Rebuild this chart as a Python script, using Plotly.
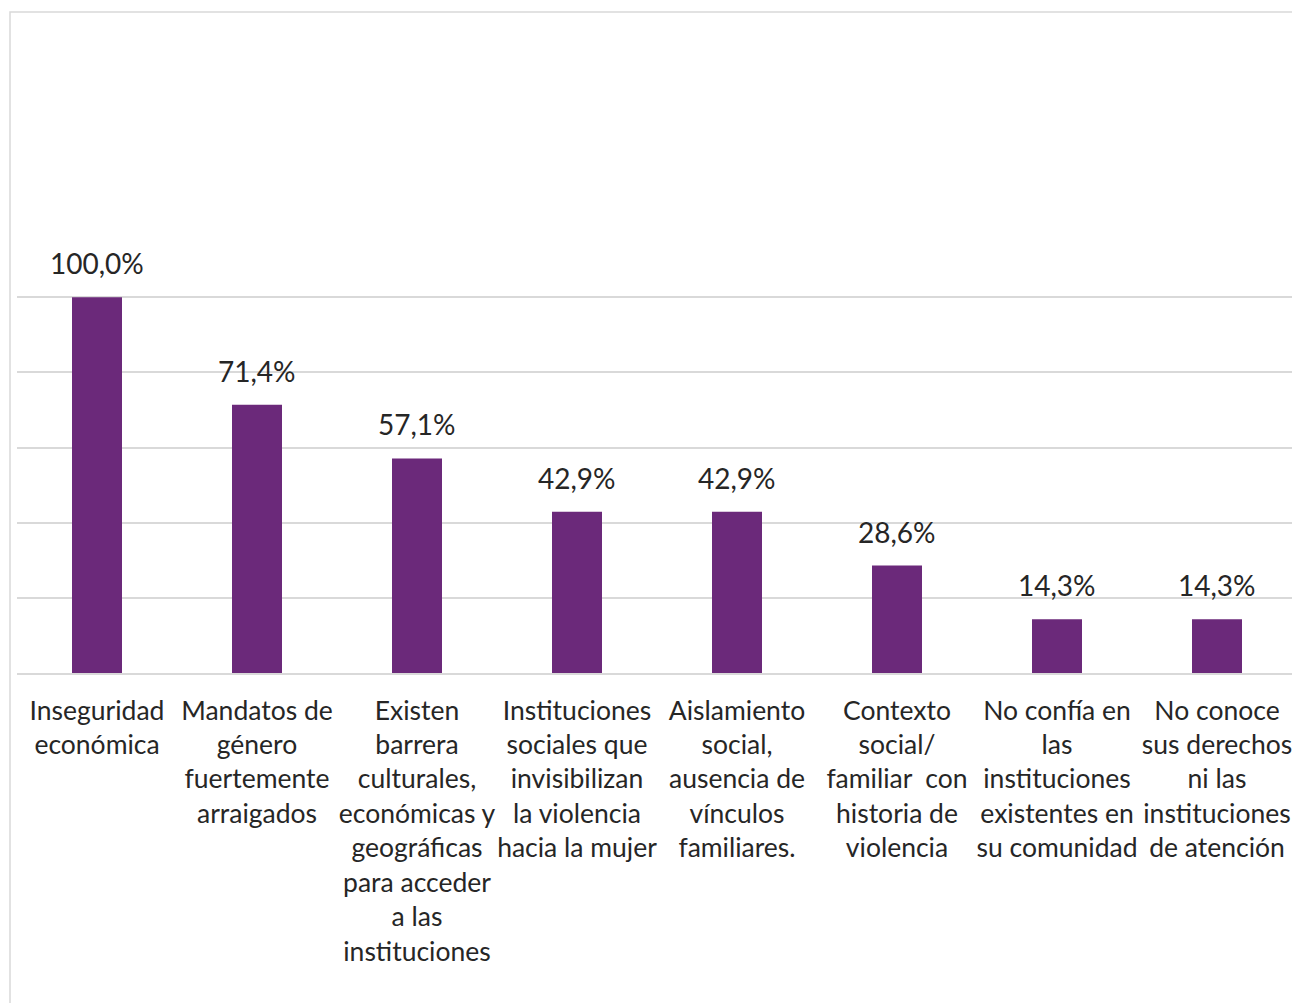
import plotly.graph_objects as go

categories = [
    "Inseguridad<br>económica",
    "Mandatos de<br>género<br>fuertemente<br>arraigados",
    "Existen<br>barrera<br>culturales,<br>económicas y<br>geográficas<br>para acceder<br>a las<br>instituciones",
    "Instituciones<br>sociales que<br>invisibilizan<br>la violencia<br>hacia la mujer",
    "Aislamiento<br>social,<br>ausencia de<br>vínculos<br>familiares.",
    "Contexto<br>social/<br>familiar&nbsp; con<br>historia de<br>violencia",
    "No confía en<br>las<br>instituciones<br>existentes en<br>su comunidad",
    "No conoce<br>sus derechos<br>ni las<br>instituciones<br>de atención",
]
values = [100.0, 71.4, 57.1, 42.9, 42.9, 28.6, 14.3, 14.3]
value_labels = ["100,0%", "71,4%", "57,1%", "42,9%", "42,9%", "28,6%", "14,3%", "14,3%"]

# page body has an 8px default margin; figure sized to fit the 1300x1003 window
OFF = 8
W, H = 1300 - OFF, 1003 - OFF
ML, MR, MT, MB = 17 - OFF, 3, 222 - OFF, 1003 - 673
PW, PH = W - ML - MR, H - MT - MB

PURPLE = "#6B297A"
GRID = "#D9D9D9"
TXT = "#262626"
FONT = "Lato, Calibri, Carlito, sans-serif"

fig = go.Figure()
fig.add_trace(go.Bar(
    x=categories, y=values, marker=dict(color=PURPLE, line=dict(width=0)),
    hoverinfo="skip",
))

for c, v, t in zip(categories, values, value_labels):
    fig.add_annotation(
        x=c, y=v, text=t, showarrow=False, xanchor="center", yanchor="bottom",
        yshift=15, font=dict(family=FONT, size=28, color=TXT),
    )

# outer chart frame (left and top edges visible)
fig.add_shape(
    type="rect", xref="paper", yref="paper",
    x0=-(ML - 2) / PW, x1=1 + 40 / PW,
    y0=-(MB + 40) / PH, y1=(H - MB - 4) / PH,
    line=dict(color=GRID, width=1.5), fillcolor="rgba(0,0,0,0)", layer="below",
)

fig.update_layout(
    width=W, height=H,
    margin=dict(l=ML, r=MR, t=MT, b=MB, pad=0),
    paper_bgcolor="white", plot_bgcolor="white",
    bargap=0.6875,
    showlegend=False,
    font=dict(family=FONT, size=26.5, color=TXT),
    xaxis=dict(
        showgrid=False, showline=True, linecolor=GRID, linewidth=1.5,
        ticks="outside", ticklen=13, tickcolor="rgba(0,0,0,0)",
        tickangle=0, tickfont=dict(family=FONT, size=26.5, color=TXT),
        fixedrange=True,
    ),
    yaxis=dict(
        range=[0, 120], dtick=20, showgrid=True, gridcolor=GRID, gridwidth=1.5,
        showticklabels=False, zeroline=False, showline=False, fixedrange=True,
    ),
)

fig.write_html("out.html")
